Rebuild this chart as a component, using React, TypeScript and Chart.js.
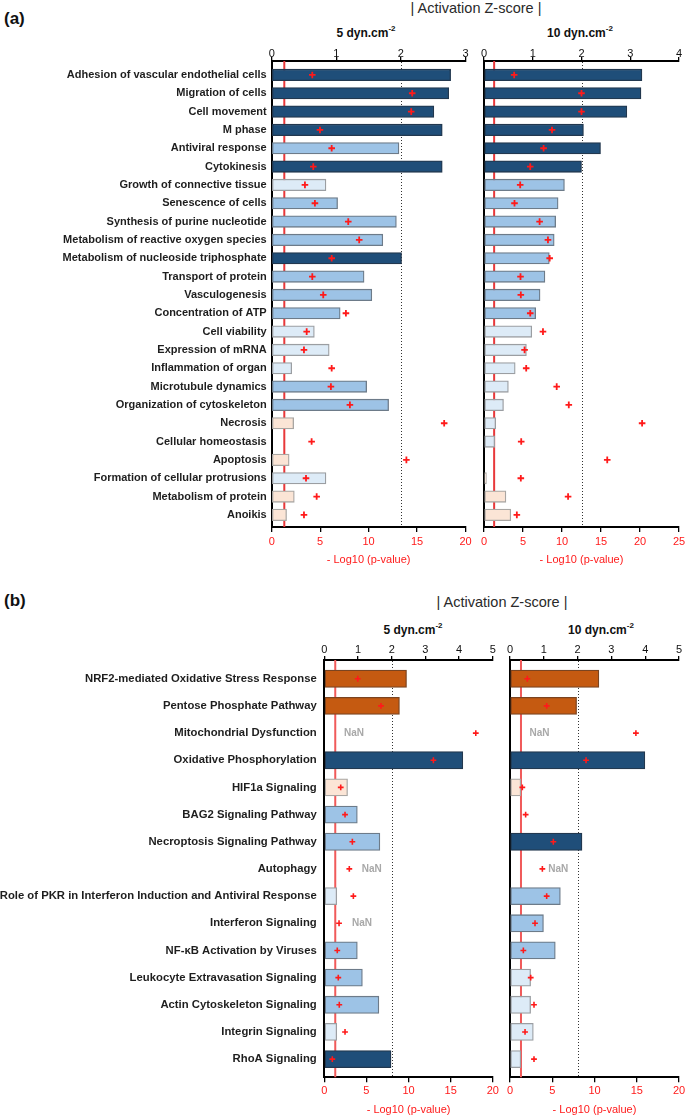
import React, { useEffect, useRef } from 'react';
import { Chart, registerables } from 'chart.js';

Chart.register(...registerables);

const FONT = "'Liberation Sans', Arial, Helvetica, sans-serif";
Chart.defaults.font.family = FONT;

// ---------------- DATA ----------------
const categoriesA = [
  'Adhesion of vascular endothelial cells',
  'Migration of cells',
  'Cell movement',
  'M phase',
  'Antiviral response',
  'Cytokinesis',
  'Growth of connective tissue',
  'Senescence of cells',
  'Synthesis of purine nucleotide',
  'Metabolism of reactive oxygen species',
  'Metabolism of nucleoside triphosphate',
  'Transport of protein',
  'Vasculogenesis',
  'Concentration of ATP',
  'Cell viability',
  'Expression of mRNA',
  'Inflammation of organ',
  'Microtubule dynamics',
  'Organization of cytoskeleton',
  'Necrosis',
  'Cellular homeostasis',
  'Apoptosis',
  'Formation of cellular protrusions',
  'Metabolism of protein',
  'Anoikis',
];

// |Activation z-score| (bars) and -log10(p-value) (crosses), panel (a)
const zScoreA5 = [2.77, 2.74, 2.51, 2.64, 1.97, 2.64, 0.84, 1.02, 1.93, 1.72, 2.01, 1.43, 1.55, 1.06, 0.66, 0.89, 0.31, 1.47, 1.81, 0.34, null, 0.27, 0.84, 0.35, 0.23];
const logPA5 = [4.19, 14.5, 14.4, 4.98, 6.19, 4.29, 3.43, 4.46, 7.9, 9.03, 6.19, 4.19, 5.32, 7.66, 3.61, 3.33, 6.19, 6.11, 8.07, 17.8, 4.12, 13.9, 3.54, 4.64, 3.33];
const colorA5 = ['D', 'D', 'D', 'D', 'M', 'D', 'L', 'M', 'M', 'M', 'D', 'M', 'M', 'M', 'L', 'L', 'L', 'M', 'M', 'P', null, 'P', 'L', 'P', 'P'];

const zScoreA10 = [3.24, 3.22, 2.93, 2.04, 2.39, 2.0, 1.65, 1.52, 1.47, 1.44, 1.34, 1.25, 1.15, 1.06, 0.98, 0.87, 0.64, 0.5, 0.4, 0.24, 0.22, null, 0.05, 0.45, 0.55];
const logPA10 = [3.87, 12.5, 12.5, 8.72, 7.64, 5.93, 4.64, 3.91, 7.13, 8.2, 8.42, 4.68, 4.72, 5.93, 7.56, 5.2, 5.41, 9.32, 10.87, 20.27, 4.77, 15.8, 4.72, 10.78, 4.21];
const colorA10 = ['D', 'D', 'D', 'D', 'D', 'D', 'M', 'M', 'M', 'M', 'M', 'M', 'M', 'M', 'L', 'L', 'L', 'L', 'L', 'L', 'L', null, 'P', 'P', 'P'];

const categoriesB = [
  'NRF2-mediated Oxidative Stress Response',
  'Pentose Phosphate Pathway',
  'Mitochondrial Dysfunction',
  'Oxidative Phosphorylation',
  'HIF1a Signaling',
  'BAG2 Signaling Pathway',
  'Necroptosis Signaling Pathway',
  'Autophagy',
  'Role of PKR in Interferon Induction and Antiviral Response',
  'Interferon Signaling',
  'NF-\u03baB Activation by Viruses',
  'Leukocyte Extravasation Signaling',
  'Actin Cytoskeleton Signaling',
  'Integrin Signaling',
  'RhoA Signaling',
];

const zScoreB5 = [2.44, 2.23, null, 4.11, 0.69, 0.98, 1.65, null, 0.37, null, 0.98, 1.13, 1.62, 0.37, 1.98];
const logPB5 = [3.97, 6.73, 17.98, 12.95, 1.95, 2.46, 3.33, 2.97, 3.45, 1.75, 1.54, 1.66, 1.78, 2.46, 0.95];
const colorB5 = ['O', 'O', null, 'D', 'P', 'M', 'M', null, 'L', null, 'M', 'M', 'M', 'L', 'D'];
// where the "NaN" annotations sit (z-score units)
const nanB5 = [null, null, 0.88, null, null, null, null, 1.41, null, 1.12, null, null, null, null, null];

const zScoreB10 = [2.63, 1.97, null, 3.99, 0.32, null, 2.13, null, 1.49, 0.99, 1.34, 0.61, 0.61, 0.69, 0.32];
const logPB10 = [2.05, 4.34, 14.9, 9.0, 1.46, 1.85, 5.13, 3.83, 4.34, 2.96, 1.58, 2.45, 2.84, 1.78, 2.84];
const colorB10 = ['O', 'O', null, 'D', 'P', null, 'D', null, 'M', 'M', 'M', 'L', 'L', 'L', 'L'];
const nanB10 = [null, null, 0.87, null, null, null, null, 1.43, null, null, null, null, null, null, null];

const P_THRESHOLD = 1.3; // -log10(0.05)
const Z_THRESHOLD = 2;

// ---------------- STYLE ----------------
const FILL: Record<string, string> = {
  D: '#1f4e79',
  M: '#9dc3e6',
  L: '#ddebf7',
  P: '#fbe5d6',
  O: '#c55a11',
};
const EDGE: Record<string, string> = {
  D: '#22384f',
  M: '#6d7b89',
  L: '#9b9ea2',
  P: '#a9a6a3',
  O: '#7b4420',
};
const RED = '#ff1a1a';

type Cfg = {
  key: string;
  cats: string[];
  z: (number | null)[];
  p: number[];
  colors: (string | null)[];
  nan?: (number | null)[];
  zMax: number;
  pMax: number;
  showLabels: boolean;
  canvas: { x: number; y: number; w: number; h: number };
  area: { left: number; top: number; right: number; bottom: number };
  yMin: number;
  yMax: number;
  barThickness: number;
  labelSize: number;
  labelPad: number;
  topPad: number;
  bottomPad: number;
  titlePad: number;
  crossR: number;
  crossW: number;
  redLine: string;
};

const panelA = { yMin: -0.76, yMax: 24.66, barThickness: 11.5, labelSize: 11, labelPad: 5, topPad: -3.6, bottomPad: 3.4, titlePad: 13.4, crossR: 3.3, crossW: 1.8, redLine: '#e8383a' };
const panelB = { yMin: -0.69, yMax: 14.67, barThickness: 17.2, labelSize: 11.3, labelPad: 7.6, topPad: -0.6, bottomPad: 1.8, titlePad: 1.4, crossR: 2.9, crossW: 1.6, redLine: '#f05a5a' };

const charts: Cfg[] = [
  {
    key: 'a5', cats: categoriesA, z: zScoreA5, p: logPA5, colors: colorA5, zMax: 3, pMax: 20, showLabels: true,
    canvas: { x: 0, y: 40, w: 476, h: 540 }, area: { left: 271.7, top: 61, right: 465.5, bottom: 527 }, ...panelA,
  },
  {
    key: 'a10', cats: categoriesA, z: zScoreA10, p: logPA10, colors: colorA10, zMax: 4, pMax: 25, showLabels: false,
    canvas: { x: 476, y: 40, w: 209, h: 540 }, area: { left: 484, top: 61, right: 679, bottom: 527 }, ...panelA,
  },
  {
    key: 'b5', cats: categoriesB, z: zScoreB5, p: logPB5, colors: colorB5, nan: nanB5, zMax: 5, pMax: 20, showLabels: true,
    canvas: { x: 0, y: 640, w: 501, h: 478 }, area: { left: 324.3, top: 660, right: 492.8, bottom: 1077.3 }, ...panelB,
  },
  {
    key: 'b10', cats: categoriesB, z: zScoreB10, p: logPB10, colors: colorB10, nan: nanB10, zMax: 5, pMax: 20, showLabels: false,
    canvas: { x: 501, y: 640, w: 184, h: 478 }, area: { left: 510, top: 660, right: 679, bottom: 1077.3 }, ...panelB,
  },
];

function SubChart({ cfg }: { cfg: Cfg }) {
  const ref = useRef<HTMLCanvasElement | null>(null);

  useEffect(() => {
    const c = cfg;
    const cv = c.canvas;
    const a = c.area;
    const yWidth = c.showLabels ? a.left - cv.x : 0;
    const padLeft = a.left - cv.x - yWidth;
    const padRight = cv.x + cv.w - a.right;
    const topH = a.top - cv.y;
    const bottomH = cv.y + cv.h - a.bottom;

    const refLines = {
      id: 'refLines_' + c.key,
      beforeDatasetsDraw(chart: any) {
        const { ctx, chartArea, scales } = chart;
        ctx.save();
        const xr = scales.xp.getPixelForValue(P_THRESHOLD);
        ctx.strokeStyle = c.redLine;
        ctx.lineWidth = 2;
        ctx.beginPath();
        ctx.moveTo(xr, chartArea.top);
        ctx.lineTo(xr, chartArea.bottom);
        ctx.stroke();
        const xd = Math.round(scales.xz.getPixelForValue(Z_THRESHOLD)) + 0.5;
        ctx.strokeStyle = '#333';
        ctx.lineWidth = 1;
        ctx.setLineDash([1, 2]);
        ctx.beginPath();
        ctx.moveTo(xd, chartArea.top + 1);
        ctx.lineTo(xd, chartArea.bottom - 1);
        ctx.stroke();
        ctx.restore();
      },
      afterDatasetsDraw(chart: any) {
        if (!c.nan) return;
        const { ctx, scales } = chart;
        ctx.save();
        ctx.font = `bold 10px ${FONT}`;
        ctx.fillStyle = '#a8a8a8';
        ctx.textAlign = 'center';
        ctx.textBaseline = 'middle';
        c.nan.forEach((v, i) => {
          if (v == null) return;
          ctx.fillText('NaN', scales.xz.getPixelForValue(v), scales.y.getPixelForValue(i));
        });
        ctx.restore();
      },
    };

    const chart = new Chart(ref.current as HTMLCanvasElement, {
      type: 'bar',
      data: {
        datasets: [
          {
            type: 'scatter',
            data: c.p.map((v, i) => ({ x: v, y: i })),
            xAxisID: 'xp',
            yAxisID: 'y',
            showLine: false,
            pointStyle: 'cross',
            pointRadius: c.crossR,
            pointHoverRadius: c.crossR,
            pointBorderColor: RED,
            pointBorderWidth: c.crossW,
            pointBackgroundColor: RED,
            order: 0,
          } as any,
          {
            type: 'bar',
            data: c.z.map((v, i) => ({ x: v, y: i })),
            xAxisID: 'xz',
            yAxisID: 'y',
            backgroundColor: c.colors.map((k) => (k ? FILL[k] : 'rgba(0,0,0,0)')),
            borderColor: c.colors.map((k) => (k ? EDGE[k] : 'rgba(0,0,0,0)')),
            borderWidth: 1.3,
            borderSkipped: false,
            grouped: false,
            barThickness: c.barThickness,
            order: 1,
          } as any,
        ],
      },
      options: {
        indexAxis: 'y',
        responsive: false,
        maintainAspectRatio: false,
        animation: false,
        events: [],
        layout: { padding: { left: padLeft, right: padRight, top: 0, bottom: 0 } },
        plugins: {
          legend: { display: false },
          tooltip: { enabled: false },
          title: { display: false },
        },
        scales: {
          y: {
            type: 'linear',
            axis: 'y',
            position: 'left',
            reverse: true,
            offset: false,
            min: c.yMin,
            max: c.yMax,
            afterFit: (s: any) => {
              s.width = yWidth;
              s.paddingTop = 0;
              s.paddingBottom = 0;
            },
            grid: { display: false, drawTicks: false, offset: false },
            border: { display: true, color: '#000', width: 2 },
            ticks: {
              display: c.showLabels,
              stepSize: 1,
              autoSkip: false,
              includeBounds: false,
              maxTicksLimit: 100,
              padding: c.labelPad,
              color: '#1e1e1e',
              font: { family: FONT, size: c.labelSize, weight: 'bold' },
              callback: (v: any) => (Number.isInteger(v) && c.cats[v] !== undefined ? c.cats[v] : ''),
            },
          },
          xz: {
            type: 'linear',
            axis: 'x',
            position: 'top',
            offset: false,
            min: 0,
            max: c.zMax,
            afterFit: (s: any) => {
              s.height = topH;
              s.paddingLeft = 0;
              s.paddingRight = 0;
            },
            grid: { display: true, offset: false, drawOnChartArea: false, drawTicks: true, tickLength: 4, color: '#000', lineWidth: 1.3 },
            border: { display: true, color: '#000', width: 2 },
            ticks: {
              stepSize: 1,
              autoSkip: false,
              maxRotation: 0,
              padding: c.topPad,
              color: '#111',
              font: { family: FONT, size: 11 },
            },
          },
          xp: {
            type: 'linear',
            axis: 'x',
            position: 'bottom',
            offset: false,
            min: 0,
            max: c.pMax,
            afterFit: (s: any) => {
              s.height = bottomH;
              s.paddingLeft = 0;
              s.paddingRight = 0;
            },
            grid: { display: true, offset: false, drawOnChartArea: false, drawTicks: true, tickLength: 5, color: '#000', lineWidth: 1.3 },
            border: { display: true, color: '#000', width: 2 },
            ticks: {
              stepSize: 5,
              autoSkip: false,
              maxRotation: 0,
              padding: c.bottomPad,
              color: RED,
              font: { family: FONT, size: 11 },
            },
            title: {
              display: true,
              text: '- Log10 (p-value)',
              color: RED,
              font: { family: FONT, size: 11 },
              padding: { top: 0, bottom: c.titlePad },
            },
          },
        },
      } as any,
      plugins: [refLines],
    });
    return () => chart.destroy();
  }, [cfg]);

  return (
    <canvas
      ref={ref}
      width={cfg.canvas.w}
      height={cfg.canvas.h}
      style={{ position: 'absolute', left: cfg.canvas.x, top: cfg.canvas.y, width: cfg.canvas.w, height: cfg.canvas.h }}
    />
  );
}

function Text({ x, y, children, style }: { x: number; y: number; children: any; style?: any }) {
  return (
    <div
      style={{
        position: 'absolute',
        left: x,
        top: y,
        transform: 'translate(-50%, -50%)',
        whiteSpace: 'nowrap',
        lineHeight: 1,
        fontFamily: FONT,
        ...style,
      }}
    >
      {children}
    </div>
  );
}

const subTitleStyle = { fontWeight: 'bold', fontSize: 12, color: '#111' };
const supStyle = { fontSize: 8, verticalAlign: 'top', position: 'relative' as const, top: -2 };
const headStyle = { fontSize: 14.5, color: '#2a2a2a' };
const panelStyle = { fontWeight: 'bold', fontSize: 17, color: '#111', transform: 'translate(0, -50%)' };

export default function App() {
  return (
    <div style={{ position: 'absolute', left: 0, top: 0, width: 685, height: 1118, background: '#fff', overflow: 'hidden' }}>
      <Text x={4} y={17.5} style={panelStyle}>(a)</Text>
      <Text x={476} y={8} style={headStyle}>| Activation Z-score |</Text>
      <Text x={366} y={33} style={subTitleStyle}>5 dyn.cm<span style={supStyle}>-2</span></Text>
      <Text x={580} y={33} style={subTitleStyle}>10 dyn.cm<span style={supStyle}>-2</span></Text>

      <Text x={4} y={600} style={panelStyle}>(b)</Text>
      <Text x={502} y={601.5} style={headStyle}>| Activation Z-score |</Text>
      <Text x={413} y={629.5} style={subTitleStyle}>5 dyn.cm<span style={supStyle}>-2</span></Text>
      <Text x={601} y={629.5} style={subTitleStyle}>10 dyn.cm<span style={supStyle}>-2</span></Text>

      {charts.map((cfg) => (
        <SubChart key={cfg.key} cfg={cfg} />
      ))}
    </div>
  );
}
